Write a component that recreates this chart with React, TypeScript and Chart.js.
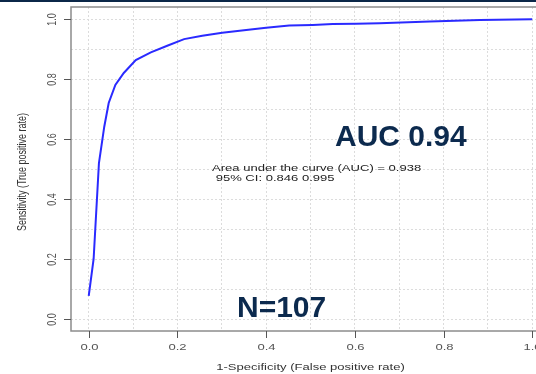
import React, { useEffect, useRef } from "react";
import { Chart, registerables } from "chart.js";

Chart.register(...registerables);

// ROC curve points (1 - specificity, sensitivity)
const fpr = [0, 0.011, 0.023, 0.035, 0.045, 0.06, 0.079, 0.106, 0.14, 0.177, 0.215, 0.256, 0.301, 0.355, 0.4, 0.452, 0.505, 0.55, 0.603, 0.656, 0.769, 0.882, 1.0];
const tpr = [0.077, 0.2, 0.52, 0.641, 0.72, 0.78, 0.82, 0.863, 0.889, 0.911, 0.933, 0.944, 0.954, 0.963, 0.971, 0.978, 0.98, 0.983, 0.984, 0.986, 0.992, 0.997, 0.999];

const tickValues = [0, 0.2, 0.4, 0.6, 0.8, 1.0];
const tickLabels = ["0.0", "0.2", "0.4", "0.6", "0.8", "1.0"];
const gridValues = [0, 0.1, 0.2, 0.3, 0.4, 0.5, 0.6, 0.7, 0.8, 0.9, 1.0];

const xTitle = "1-Specificity (False positive rate)";
const yTitle = "Sensitivity (True positive rate)";
const legendLines = ["Area under the curve (AUC) = 0.938", " 95% CI: 0.846 0.995"];
const aucText = "AUC 0.94";
const nText = "N=107";

const FONT = "'Liberation Sans', Arial, sans-serif";
const SX = 1.45;

function stretchedText(
  ctx: CanvasRenderingContext2D,
  text: string,
  x: number,
  y: number,
  opts: { sx?: number; align?: CanvasTextAlign; baseline?: CanvasTextBaseline; rotate?: number; font: string; color: string }
) {
  ctx.save();
  ctx.translate(x, y);
  ctx.scale(opts.sx ?? 1, 1);
  if (opts.rotate) ctx.rotate(opts.rotate);
  ctx.font = opts.font;
  ctx.fillStyle = opts.color;
  ctx.textAlign = opts.align ?? "left";
  ctx.textBaseline = opts.baseline ?? "alphabetic";
  ctx.fillText(text, 0, 0);
  ctx.restore();
}

const decorPlugin = {
  id: "decor",
  afterDraw(chart: any) {
    const ctx: CanvasRenderingContext2D = chart.ctx;
    const { left, top, right, bottom } = chart.chartArea;
    const xs = chart.scales.x;
    const ys = chart.scales.y;
    ctx.save();
    // frame
    ctx.strokeStyle = "#8c8c8c";
    ctx.lineWidth = 1.5;
    ctx.strokeRect(left, top, right - left, bottom - top);
    // tick marks
    ctx.strokeStyle = "#555";
    ctx.lineWidth = 1;
    tickValues.forEach((v, i) => {
      const py = Math.round(ys.getPixelForValue(v)) + 0.5;
      ctx.beginPath();
      ctx.moveTo(left - 7, py);
      ctx.lineTo(left, py);
      ctx.stroke();
      stretchedText(ctx, tickLabels[i], 52, py, {
        sx: SX, rotate: -Math.PI / 2, align: "center", baseline: "middle",
        font: `9px ${FONT}`, color: "#555",
      });
      const px = Math.round(xs.getPixelForValue(v)) + 0.5;
      ctx.beginPath();
      ctx.moveTo(px, bottom);
      ctx.lineTo(px, bottom + 7);
      ctx.stroke();
      stretchedText(ctx, tickLabels[i], px, 350, {
        sx: SX, align: "center", font: `9px ${FONT}`, color: "#555",
      });
    });
    // axis titles
    stretchedText(ctx, xTitle, xs.getPixelForValue(0.5), 370, {
      sx: SX, align: "center", font: `9px ${FONT}`, color: "#333",
    });
    stretchedText(ctx, yTitle, 22, ys.getPixelForValue(0.5) + 3, {
      sx: SX, rotate: -Math.PI / 2, align: "center", baseline: "middle",
      font: `9px ${FONT}`, color: "#333",
    });
    // legend text
    stretchedText(ctx, legendLines[0], 212, 171, { sx: SX, font: `9px ${FONT}`, color: "#222" });
    stretchedText(ctx, legendLines[1], 212, 181, { sx: SX, font: `9px ${FONT}`, color: "#222" });
    // big annotations
    stretchedText(ctx, aucText, 335, 146, { font: `bold 30px ${FONT}`, color: "#0c2a4e" });
    stretchedText(ctx, nText, 237, 317, { font: `bold 30px ${FONT}`, color: "#0c2a4e" });
    ctx.restore();
  },
};

export default function App() {
  const ref = useRef<HTMLCanvasElement | null>(null);

  useEffect(() => {
    document.body.style.margin = "0";
    const canvas = ref.current!;
    const setGridTicks = (scale: any) => {
      scale.ticks = gridValues.map((v) => ({ value: v }));
    };
    const chart = new Chart(canvas, {
      type: "scatter",
      data: {
        datasets: [
          {
            data: fpr.map((x, i) => ({ x, y: tpr[i] })),
            showLine: true,
            borderColor: "#2a2aff",
            borderWidth: 2,
            pointRadius: 0,
            tension: 0,
            fill: false,
          },
        ],
      },
      options: {
        responsive: false,
        animation: false,
        devicePixelRatio: 1,
        layout: { padding: { left: 71, top: 7, right: 10, bottom: 43 } },
        plugins: { legend: { display: false }, tooltip: { enabled: false } },
        scales: {
          x: {
            type: "linear",
            min: -0.04,
            max: 1.04,
            afterBuildTicks: setGridTicks,
            afterFit: (s: any) => { s.height = 0; },
            ticks: { display: false },
            grid: { color: "#dcdcdc", lineWidth: 1, drawTicks: false },
            border: { display: false, dash: [2, 2] },
          },
          y: {
            type: "linear",
            min: -0.04,
            max: 1.04,
            afterBuildTicks: setGridTicks,
            afterFit: (s: any) => { s.width = 0; },
            ticks: { display: false },
            grid: { color: "#dcdcdc", lineWidth: 1, drawTicks: false },
            border: { display: false, dash: [2, 2] },
          },
        },
      },
      plugins: [decorPlugin],
    } as any);
    return () => chart.destroy();
  }, []);

  return (
    <div style={{ position: "fixed", left: 0, top: 0, width: 536, height: 374, overflow: "hidden", background: "#fff" }}>
      <canvas ref={ref} width={560} height={374} style={{ position: "absolute", left: 0, top: 0, width: 560, height: 374 }} />
      <div style={{ position: "absolute", left: 0, top: 0, width: 536, height: 2, background: "#0b2748" }} />
    </div>
  );
}
